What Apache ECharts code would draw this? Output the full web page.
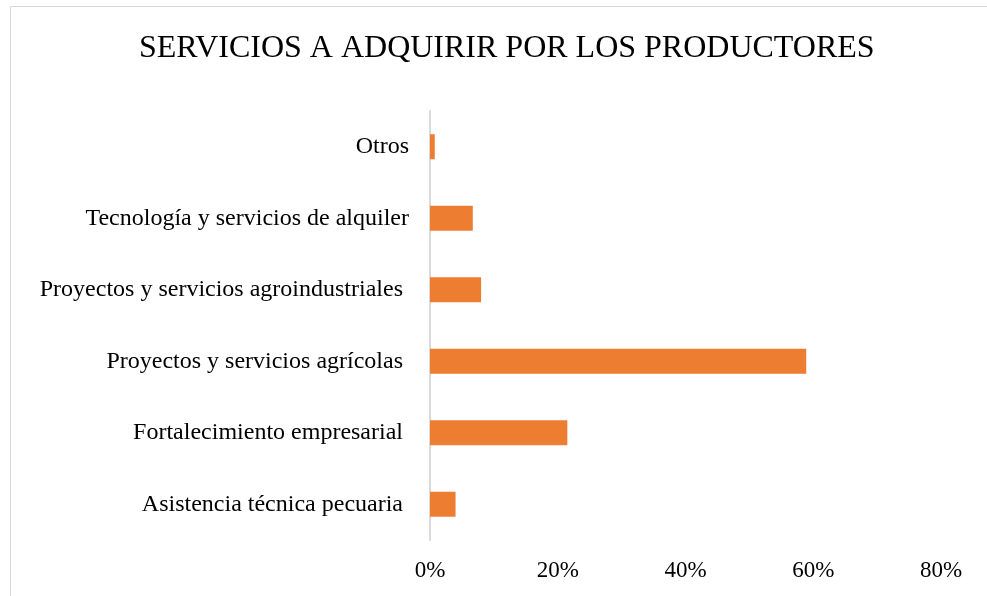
<!DOCTYPE html>
<html>
<head>
<meta charset="utf-8">
<script src="https://cdn.jsdelivr.net/npm/echarts@6/dist/echarts.min.js"></script>
<style>
  html, body { margin: 0; padding: 0; background: #fff; }
  #chart { width: 987px; height: 596px; }
</style>
</head>
<body>
<div id="chart"></div>
<script>
const categories = [
  'Asistencia técnica pecuaria ',
  'Fortalecimiento empresarial ',
  'Proyectos y servicios agrícolas ',
  'Proyectos y servicios agroindustriales ',
  'Tecnología y servicios de alquiler',
  'Otros'
]
const values = [4.0, 21.5, 58.9, 8.0, 6.7, 0.75]
const xTicks = [0, 20, 40, 60, 80]

const font = '"Liberation Serif", "Times New Roman", serif'
const chart = echarts.init(document.getElementById('chart'))

chart.setOption({
  animation: false,
  textStyle: { fontFamily: font },
  title: {
    text: 'SERVICIOS A ADQUIRIR POR LOS PRODUCTORES',
    left: 134,
    top: 28,
    textStyle: { fontFamily: font, fontSize: 32, fontWeight: 'normal', color: '#000' },
  },
  graphic: [{
    type: 'rect',
    shape: { x: 10.5, y: 6.5, width: 1000, height: 700 },
    style: { fill: 'none', stroke: '#d9d9d9', lineWidth: 1 },
    silent: true,
  }],
  grid: { left: 430, right: 46, top: 111, bottom: 56, containLabel: false },
  xAxis: {
    type: 'value',
    min: xTicks[0],
    max: xTicks[xTicks.length - 1],
    interval: 20,
    axisLine: { show: false },
    axisTick: { show: false },
    splitLine: { show: false },
    axisLabel: {
      formatter: v => v + '%',
      color: '#000',
      fontSize: 23,
      fontFamily: font,
      margin: 19,
    },
  },
  yAxis: {
    type: 'category',
    data: categories,
    axisLine: { show: true, lineStyle: { color: '#d9d9d9', width: 2 } },
    axisTick: { show: false },
    axisLabel: { color: '#000', fontSize: 24, fontFamily: font, margin: 21, padding: [3, 0, 0, 0] },
  },
  series: [{
    type: 'bar',
    data: values,
    barWidth: 25,
    itemStyle: { color: '#ed7d31' },
  }],
})
</script>
</body>
</html>
